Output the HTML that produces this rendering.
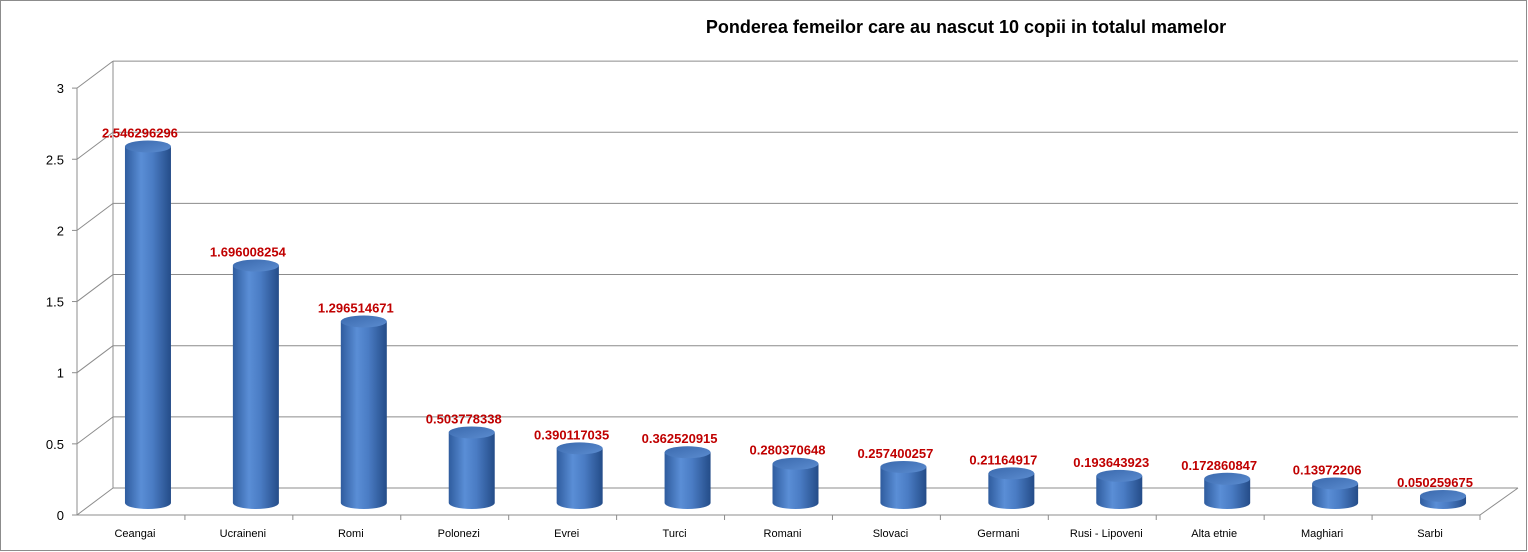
<!DOCTYPE html>
<html><head><meta charset="utf-8"><style>
html,body{margin:0;padding:0;background:#fff}
svg{display:block}
text{font-family:"Liberation Sans",sans-serif}
</style></head><body>
<svg width="1528" height="552" viewBox="0 0 1528 552" xmlns="http://www.w3.org/2000/svg">
<defs>
<linearGradient id="cyl" x1="0" x2="1" y1="0" y2="0">
<stop offset="0" stop-color="#2f5c9e"/>
<stop offset="0.35" stop-color="#5a8ed6"/>
<stop offset="0.6" stop-color="#4a7cc4"/>
<stop offset="1" stop-color="#244c88"/>
</linearGradient>
<linearGradient id="top" x1="0" x2="1" y1="0" y2="1">
<stop offset="0" stop-color="#3a69ad"/>
<stop offset="1" stop-color="#5b8cd0"/>
</linearGradient>
</defs>
<rect x="0.5" y="0.5" width="1526" height="550" fill="#fff" stroke="#8c8c8c"/>
<text x="966" y="33" text-anchor="middle" font-size="18" font-weight="bold" fill="#000">Ponderea femeilor care au nascut 10 copii in totalul mamelor</text>
<g id="grid" stroke="#8c8c8c" stroke-width="1" fill="none"></g>
<g id="bars"></g>
<g id="labels"></g>
</svg>
<script>
var ns="http://www.w3.org/2000/svg";
function el(t,a,p,txt){var e=document.createElementNS(ns,t);for(var k in a)e.setAttribute(k,a[k]);if(txt!==undefined)e.textContent=txt;p.appendChild(e);return e;}
var g=document.getElementById('grid'),b=document.getElementById('bars'),l=document.getElementById('labels');
var sc=142.3,x0=77,y0=515,dx=36,dy=-27,xr=1480;
el('line',{x1:x0+dx,y1:y0+dy-3*sc,x2:x0+dx,y2:y0+dy},g);
for(var k=0;k<=6;k++){var v=k*0.5,yf=y0-v*sc;
 el('line',{x1:x0,y1:yf,x2:x0+dx,y2:yf+dy},g);
 el('line',{x1:x0+dx,y1:yf+dy,x2:xr+dx+2,y2:yf+dy},g);
 el('line',{x1:x0-5,y1:yf,x2:x0,y2:yf},g);
 el('text',{x:x0-13,y:yf+5,'text-anchor':'end','font-size':13,fill:'#000',stroke:'none'},l,String(v));
}
el('line',{x1:x0,y1:y0-3*sc,x2:x0,y2:y0},g);
el('line',{x1:x0,y1:y0,x2:xr,y2:y0},g);
el('line',{x1:xr,y1:y0,x2:xr+dx+2,y2:y0+dy},g);
var cats=["Ceangai","Ucraineni","Romi","Polonezi","Evrei","Turci","Romani","Slovaci","Germani","Rusi - Lipoveni","Alta etnie","Maghiari","Sarbi"];
var vals=["2.546296296","1.696008254","1.296514671","0.503778338","0.390117035","0.362520915","0.280370648","0.257400257","0.21164917","0.193643923","0.172860847","0.13972206","0.050259675"];
var w=(xr-x0)/13;
for(var i=0;i<13;i++){
 el('line',{x1:x0+w*(i+1),y1:y0,x2:x0+w*(i+1),y2:y0+5},g);
 var cx=x0+w*(i+0.5);
 el('text',{x:cx+4,y:537,'text-anchor':'middle','font-size':11,fill:'#000'},l,cats[i]);
 var bx=cx+17,v=parseFloat(vals[i]),yb=503,yt=yb-v*140,rx=23,ry=6;
 el('path',{d:'M'+(bx-rx)+' '+yt+' L'+(bx-rx)+' '+yb+' A'+rx+' '+ry+' 0 0 0 '+(bx+rx)+' '+yb+' L'+(bx+rx)+' '+yt+' Z',fill:'url(#cyl)'},b);
 el('ellipse',{cx:bx,cy:yt,rx:rx,ry:ry,fill:'url(#top)'},b);
 el('text',{x:bx-8,y:yt-9,'text-anchor':'middle','font-size':13,'font-weight':'bold',fill:'#c00000'},l,vals[i]);
}
</script>
</body></html>
